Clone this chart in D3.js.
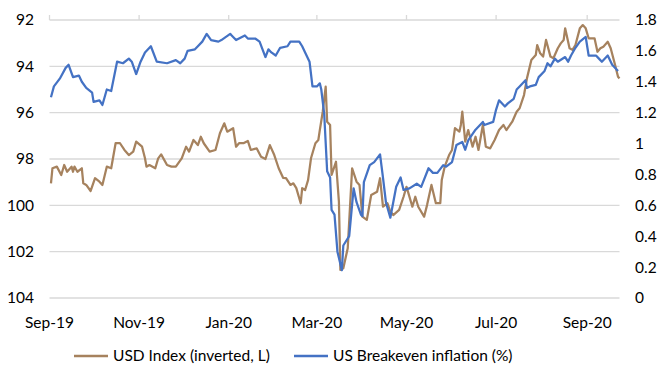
<!DOCTYPE html>
<html>
<head>
<meta charset="utf-8">
<script src="https://cdn.jsdelivr.net/npm/d3@7"></script>
<style>
  body { margin: 0; background: #fff; }
  text { font-family: Lato, "Open Sans", sans-serif; fill: #000; }
</style>
</head>
<body>
<script>
const width = 672;
const height = 377;

// USD index (inverted, left axis)
const usdDates = ['2019-09-02','2019-09-03','2019-09-06','2019-09-09','2019-09-11','2019-09-13','2019-09-16','2019-09-17','2019-09-18','2019-09-20',
  '2019-09-23','2019-09-24','2019-09-26','2019-09-29','2019-10-02','2019-10-05','2019-10-07','2019-10-10','2019-10-13','2019-10-16',
  '2019-10-19','2019-10-22','2019-10-25','2019-10-28','2019-10-30','2019-11-03','2019-11-05','2019-11-06','2019-11-08','2019-11-12',
  '2019-11-14','2019-11-16','2019-11-20','2019-11-23','2019-11-26','2019-11-30','2019-12-03','2019-12-05','2019-12-08','2019-12-11',
  '2019-12-13','2019-12-15','2019-12-19','2019-12-23','2019-12-26','2019-12-29','2019-12-31','2020-01-04','2020-01-06','2020-01-08',
  '2020-01-11','2020-01-14','2020-01-16','2020-01-20','2020-01-23','2020-01-26','2020-01-29','2020-02-01','2020-02-04','2020-02-07',
  '2020-02-09','2020-02-12','2020-02-14','2020-02-16','2020-02-19','2020-02-20','2020-02-22','2020-02-24','2020-02-26','2020-02-29',
  '2020-03-02','2020-03-03','2020-03-05','2020-03-07','2020-03-08','2020-03-10','2020-03-11','2020-03-14','2020-03-16','2020-03-17',
  '2020-03-19','2020-03-22','2020-03-25','2020-03-28','2020-03-30','2020-04-01','2020-04-04','2020-04-06','2020-04-07','2020-04-11',
  '2020-04-13','2020-04-15','2020-04-18','2020-04-20','2020-04-22','2020-04-26','2020-04-29','2020-05-01','2020-05-02','2020-05-05',
  '2020-05-07','2020-05-09','2020-05-13','2020-05-15','2020-05-18','2020-05-21','2020-05-24','2020-05-25','2020-05-27','2020-05-30',
  '2020-06-01','2020-06-03','2020-06-06','2020-06-07','2020-06-08','2020-06-10','2020-06-12','2020-06-15','2020-06-17','2020-06-19',
  '2020-06-22','2020-06-24','2020-06-27','2020-06-30','2020-07-03','2020-07-06','2020-07-08','2020-07-12','2020-07-14','2020-07-15',
  '2020-07-17','2020-07-20','2020-07-22','2020-07-25','2020-07-28','2020-07-29','2020-07-31','2020-08-02','2020-08-04','2020-08-07',
  '2020-08-09','2020-08-12','2020-08-14','2020-08-16','2020-08-17','2020-08-20','2020-08-22','2020-08-24','2020-08-27','2020-08-29',
  '2020-08-31','2020-09-02','2020-09-05','2020-09-06','2020-09-08','2020-09-10','2020-09-12','2020-09-15','2020-09-17','2020-09-20',
  '2020-09-22','2020-09-23'];
const usdValues = [99.05,98.40,98.33,98.69,98.26,98.55,98.33,98.55,98.33,98.55,
  98.40,99.05,99.12,99.38,98.83,98.98,99.12,98.33,98.40,97.32,
  97.32,97.61,97.83,97.68,97.25,97.47,97.97,98.33,98.26,98.40,
  97.97,97.80,98.26,98.33,98.33,97.97,97.47,97.68,97.18,97.40,
  97.04,97.32,97.68,97.61,96.89,96.46,96.82,96.67,97.47,97.32,
  97.32,97.22,97.61,97.54,97.90,98.00,97.40,97.83,98.40,98.81,
  98.83,99.12,99.05,99.26,99.91,99.26,99.34,98.91,97.97,97.32,
  97.18,96.75,95.96,94.88,96.39,96.53,98.69,98.12,99.84,102.79,
  102.72,101.85,98.40,98.98,99.12,100.49,100.63,99.91,99.55,99.41,
  98.83,100.06,99.91,100.27,100.42,100.20,99.63,99.20,99.41,100.06,
  99.63,100.06,100.49,99.99,99.12,99.91,99.91,98.91,98.33,97.83,
  97.61,96.67,96.82,96.53,95.96,97.25,96.75,97.47,97.04,97.61,
  96.53,97.47,97.54,97.18,96.75,96.53,96.75,96.39,96.10,95.96,
  95.81,95.24,94.52,93.73,93.51,93.08,93.44,93.58,92.86,93.58,
  93.65,93.22,93.01,92.86,92.36,93.22,93.29,93.08,92.36,92.22,
  92.36,92.79,92.79,92.79,93.37,93.22,93.15,92.94,93.22,93.94,
  94.45,94.52];

// US breakeven inflation (%, right axis)
const beDates = ['2019-09-02','2019-09-04','2019-09-08','2019-09-12','2019-09-14','2019-09-17','2019-09-21','2019-09-23','2019-09-26','2019-09-30',
  '2019-10-01','2019-10-05','2019-10-07','2019-10-10','2019-10-13','2019-10-17','2019-10-21','2019-10-25','2019-10-27','2019-10-30',
  '2019-11-02','2019-11-05','2019-11-09','2019-11-13','2019-11-20','2019-11-26','2019-11-29','2019-12-02','2019-12-04','2019-12-09',
  '2019-12-11','2019-12-14','2019-12-17','2019-12-20','2019-12-25','2019-12-27','2020-01-02','2020-01-03','2020-01-06','2020-01-12',
  '2020-01-14','2020-01-19','2020-01-22','2020-01-26','2020-01-28','2020-01-30','2020-02-02','2020-02-05','2020-02-10','2020-02-12',
  '2020-02-18','2020-02-20','2020-02-22','2020-02-25','2020-02-27','2020-03-01','2020-03-03','2020-03-04','2020-03-06','2020-03-08',
  '2020-03-10','2020-03-11','2020-03-13','2020-03-15','2020-03-18','2020-03-19','2020-03-23','2020-03-26','2020-03-28','2020-03-31',
  '2020-04-01','2020-04-02','2020-04-06','2020-04-09','2020-04-13','2020-04-15','2020-04-17','2020-04-20','2020-04-22','2020-04-24',
  '2020-04-27','2020-04-29','2020-05-03','2020-05-08','2020-05-11','2020-05-16','2020-05-19','2020-05-22','2020-05-26','2020-05-28',
  '2020-06-01','2020-06-04','2020-06-08','2020-06-10','2020-06-12','2020-06-17','2020-06-22','2020-06-23','2020-06-29','2020-07-01',
  '2020-07-03','2020-07-07','2020-07-09','2020-07-13','2020-07-15','2020-07-17','2020-07-21','2020-07-22','2020-07-24','2020-07-28',
  '2020-07-30','2020-08-03','2020-08-05','2020-08-07','2020-08-10','2020-08-12','2020-08-17','2020-08-19','2020-08-21','2020-08-24',
  '2020-08-27','2020-08-31','2020-09-02','2020-09-07','2020-09-09','2020-09-11','2020-09-15','2020-09-18','2020-09-22'];
const beValues = [1.30,1.37,1.42,1.49,1.51,1.43,1.44,1.40,1.36,1.33,
  1.27,1.28,1.25,1.35,1.34,1.53,1.52,1.55,1.53,1.45,
  1.53,1.59,1.63,1.53,1.52,1.54,1.52,1.55,1.60,1.61,
  1.63,1.66,1.71,1.67,1.66,1.67,1.71,1.70,1.67,1.70,
  1.68,1.68,1.66,1.56,1.61,1.59,1.57,1.62,1.63,1.66,
  1.66,1.63,1.59,1.53,1.37,1.37,1.39,1.35,1.19,0.82,
  0.78,0.57,0.54,0.30,0.18,0.34,0.40,0.71,0.62,0.54,
  0.53,0.75,0.86,0.88,0.93,0.78,0.62,0.52,0.62,0.72,
  0.78,0.70,0.71,0.74,0.72,0.84,0.81,0.81,0.86,0.85,
  0.88,0.99,1.01,0.96,1.02,1.09,1.14,1.12,1.14,1.22,
  1.28,1.24,1.26,1.29,1.35,1.37,1.41,1.36,1.37,1.38,
  1.43,1.47,1.52,1.50,1.55,1.53,1.56,1.53,1.57,1.62,
  1.66,1.69,1.57,1.57,1.55,1.53,1.57,1.51,1.47];

const leftTicks = [92, 94, 96, 98, 100, 102, 104];
const rightTicks = [0, 0.2, 0.4, 0.6, 0.8, 1, 1.2, 1.4, 1.6, 1.8];
const monthTicks = ['2019-09-01','2019-11-01','2020-01-01','2020-03-01','2020-05-01','2020-07-01','2020-09-01'];
const seriesNames = ['USD Index (inverted, L)', 'US Breakeven inflation (%)'];
const colors = ['#A6825E', '#4472C4'];

const parse = d3.timeParse('%Y-%m-%d');
const fmt = d3.timeFormat('%b-%y');

const usd = usdDates.map((d, i) => ({ date: parse(d), value: usdValues[i] }));
const be = beDates.map((d, i) => ({ date: parse(d), value: beValues[i] }));

const x = d3.scaleTime()
    .domain([parse('2019-09-01'), parse('2020-09-23')])
    .range([49.5, 619.5]);

const yLeft = d3.scaleLinear()
    .domain([92, 104])
    .range([20, 298]);

const yRight = d3.scaleLinear()
    .domain([0, 1.8])
    .range([298, 20]);

const svg = d3.select('body')
    .append('svg')
    .attr('width', width)
    .attr('height', height);

// gridlines
svg.append('g')
    .selectAll('line')
    .data(leftTicks)
    .enter().append('line')
    .attr('x1', x.range()[0])
    .attr('x2', x.range()[1])
    .attr('y1', d => yLeft(d))
    .attr('y2', d => yLeft(d))
    .style('stroke', '#D9D9D9')
    .style('stroke-width', 1.3);

// date ticks on the top line (the axis crosses at 92)
svg.append('g')
    .selectAll('line')
    .data(monthTicks.map(parse))
    .enter().append('line')
    .attr('x1', d => x(d))
    .attr('x2', d => x(d))
    .attr('y1', yLeft(92))
    .attr('y2', yLeft(92) - 5)
    .style('stroke', '#D9D9D9')
    .style('stroke-width', 1.3);

svg.append('g')
    .selectAll('text')
    .data(monthTicks.map(parse))
    .enter().append('text')
    .attr('x', d => x(d))
    .attr('y', 328)
    .attr('text-anchor', 'middle')
    .style('font-size', '15.5px')
    .text(d => fmt(d));

svg.append('g')
    .selectAll('text')
    .data(leftTicks)
    .enter().append('text')
    .attr('x', 34)
    .attr('y', d => yLeft(d))
    .attr('dy', '0.35em')
    .attr('text-anchor', 'end')
    .style('font-size', '15.5px')
    .text(d => d);

svg.append('g')
    .selectAll('text')
    .data(rightTicks)
    .enter().append('text')
    .attr('x', 635)
    .attr('y', d => yRight(d))
    .attr('dy', '0.35em')
    .style('font-size', '15.5px')
    .text(d => +d.toFixed(1));

const lineUsd = d3.line()
    .x(d => x(d.date))
    .y(d => yLeft(d.value));

const lineBe = d3.line()
    .x(d => x(d.date))
    .y(d => yRight(d.value));

svg.append('path')
    .datum(usd)
    .attr('d', lineUsd)
    .style('fill', 'none')
    .style('stroke', colors[0])
    .style('stroke-width', 2.25)
    .style('stroke-linejoin', 'round');

svg.append('path')
    .datum(be)
    .attr('d', lineBe)
    .style('fill', 'none')
    .style('stroke', colors[1])
    .style('stroke-width', 2.25)
    .style('stroke-linejoin', 'round');

// legend
const legendX = [74, 294];
const legend = svg.append('g')
    .selectAll('g')
    .data(seriesNames)
    .enter().append('g')
    .attr('transform', (d, i) => `translate(${legendX[i]},356)`);

legend.append('line')
    .attr('x1', 0)
    .attr('x2', 34)
    .style('stroke', (d, i) => colors[i])
    .style('stroke-width', 2.5);

legend.append('text')
    .attr('x', 39)
    .attr('dy', '0.35em')
    .style('font-size', '15.5px')
    .text(d => d);
</script>
</body>
</html>
